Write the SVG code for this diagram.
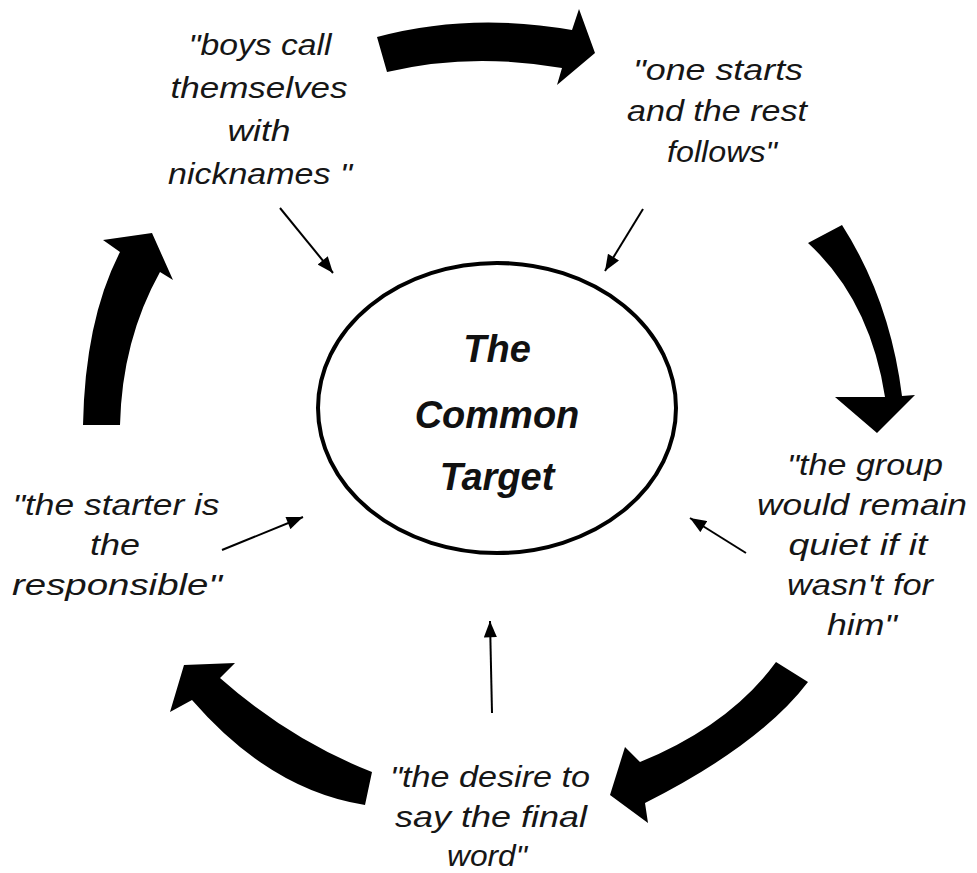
<svg xmlns="http://www.w3.org/2000/svg" width="977" height="873" viewBox="0 0 977 873">
<style>
.lbl{font-family:"Liberation Sans",Arial,sans-serif;font-style:italic;font-size:30px;fill:#161616;text-anchor:middle}
.ctr{font-family:"Liberation Sans",Arial,sans-serif;font-style:italic;font-weight:bold;font-size:38px;fill:#111;text-anchor:middle}
.big{fill:#000}
.thin{stroke:#000;stroke-width:2;fill:none;marker-end:url(#ah)}
</style>
<defs>
<marker id="ah" viewBox="0 0 10 8" refX="10" refY="4" markerWidth="17" markerHeight="13" markerUnits="userSpaceOnUse" orient="auto">
<path d="M0,0 L10,4 L0,8 Z" fill="#000"/>
</marker>
</defs>
<rect width="977" height="873" fill="#fff"/>

<g id="connectors">
<path class="big" d="M377,37 Q470,12 572,30 L579,9 L595,53 L557,85 L562,68 Q470,52 387,72 Z"/>
<path class="big" d="M842,225 Q890,300 902,396 L915,395 L877,433 L835,397 L885,397 Q870,300 808,243 Z"/>
<path class="big" d="M776,662 Q730,725 640,762 L625,747 L610,795 L648,823 L645,803 Q760,745 808,682 Z"/>
<path class="big" d="M372,772 Q290,740 220,678 L235,663 L184,665 L170,712 L192,700 Q270,790 365,805 Z"/>
<path class="big" d="M83,425 Q85,320 120,252 L103,240 L152,233 L173,280 L160,272 Q122,340 120,425 Z"/>
<line class="thin" x1="280" y1="208" x2="333" y2="273"/>
<line class="thin" x1="643" y1="209" x2="605" y2="271"/>
<line class="thin" x1="222" y1="550" x2="303" y2="517"/>
<line class="thin" x1="746" y1="553" x2="690" y2="518"/>
<line class="thin" x1="492" y1="713" x2="490" y2="621"/>
</g>

<g id="center">
<ellipse cx="497" cy="408" rx="179" ry="145" fill="#fff" stroke="#000" stroke-width="4"/>
<text class="ctr" x="497" y="362">The</text>
<text class="ctr" x="497" y="428">Common</text>
<text class="ctr" x="497" y="490">Target</text>
</g>

<g id="node-nicknames">
<text class="lbl" x="260" y="55" textLength="143" lengthAdjust="spacingAndGlyphs">"boys call</text>
<text class="lbl" x="259" y="98" textLength="177" lengthAdjust="spacingAndGlyphs">themselves</text>
<text class="lbl" x="259" y="141" textLength="63" lengthAdjust="spacingAndGlyphs">with</text>
<text class="lbl" x="260" y="184" textLength="184" lengthAdjust="spacingAndGlyphs">nicknames "</text>
</g>

<g id="node-one-starts">
<text class="lbl" x="718" y="80" textLength="170" lengthAdjust="spacingAndGlyphs">"one starts</text>
<text class="lbl" x="717" y="121" textLength="180" lengthAdjust="spacingAndGlyphs">and the rest</text>
<text class="lbl" x="722" y="162" textLength="110" lengthAdjust="spacingAndGlyphs">follows"</text>
</g>

<g id="node-group-quiet">
<text class="lbl" x="865" y="475" textLength="156" lengthAdjust="spacingAndGlyphs">"the group</text>
<text class="lbl" x="862" y="515" textLength="210" lengthAdjust="spacingAndGlyphs">would remain</text>
<text class="lbl" x="858" y="555" textLength="139" lengthAdjust="spacingAndGlyphs">quiet if it</text>
<text class="lbl" x="860" y="595" textLength="146" lengthAdjust="spacingAndGlyphs">wasn't for</text>
<text class="lbl" x="862" y="635" textLength="70" lengthAdjust="spacingAndGlyphs">him"</text>
</g>

<g id="node-final-word">
<text class="lbl" x="490" y="787" textLength="200" lengthAdjust="spacingAndGlyphs">"the desire to</text>
<text class="lbl" x="491" y="827" textLength="192" lengthAdjust="spacingAndGlyphs">say the final</text>
<text class="lbl" x="487" y="866" textLength="80" lengthAdjust="spacingAndGlyphs">word"</text>
</g>

<g id="node-starter">
<text class="lbl" x="116" y="515" textLength="207" lengthAdjust="spacingAndGlyphs">"the starter is</text>
<text class="lbl" x="115" y="555" textLength="50" lengthAdjust="spacingAndGlyphs">the</text>
<text class="lbl" x="117" y="595" textLength="210" lengthAdjust="spacingAndGlyphs">responsible"</text>
</g>
</svg>
